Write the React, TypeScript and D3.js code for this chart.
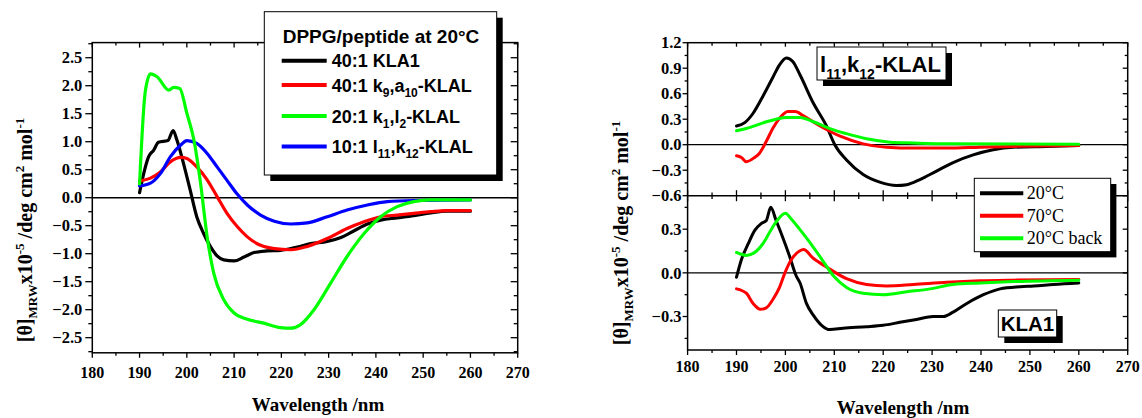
import React from "react";
import * as d3 from "d3";

// ---------- data: left chart (DPPG/peptide at 20°C) ----------
const kla1Nm = [190, 190.9, 191.9, 193, 194, 196, 197.1, 197.9, 199.3, 200.7, 202.1, 203.5, 205, 206.4, 207.8, 210, 212.1, 214.2, 217, 219.8, 223.4, 226.2, 229.7, 232.6, 235.4, 238.2, 241, 244.5, 248, 251.6, 255, 260];
const kla1Val = [0.09, 0.44, 0.73, 0.85, 0.99, 1.02, 1.2, 1.03, 0.61, 0.14, -0.34, -0.63, -0.875, -1.04, -1.11, -1.13, -1.06, -0.98, -0.95, -0.94, -0.88, -0.82, -0.78, -0.71, -0.59, -0.47, -0.4, -0.36, -0.32, -0.27, -0.24, -0.24];

const k9a10Nm = [190, 192.3, 194.4, 196.5, 198.7, 200, 202.1, 204.3, 206.4, 208.5, 210.7, 212.8, 215.6, 218.5, 222, 225.5, 229.7, 233.9, 237.5, 241, 244.5, 248, 251.6, 255, 260];
const k9a10Val = [0.3, 0.35, 0.46, 0.64, 0.72, 0.7, 0.55, 0.32, 0.02, -0.28, -0.52, -0.7, -0.85, -0.91, -0.93, -0.87, -0.73, -0.55, -0.43, -0.34, -0.31, -0.28, -0.25, -0.23, -0.23];

const k1l2Nm = [190, 191.2, 192.3, 193.7, 196.2, 197.2, 198.5, 200, 201.5, 202.9, 204.3, 205.7, 207.8, 210, 212.8, 216.3, 219.8, 222, 224, 226.9, 230.4, 233.9, 237.5, 241, 244.5, 248, 251.6, 260];
const k1l2Val = [0.245, 1.89, 2.21, 2.16, 1.92, 1.97, 1.95, 1.51, 1.03, 0.26, -0.7, -1.35, -1.82, -2.06, -2.17, -2.24, -2.32, -2.33, -2.27, -2.0, -1.53, -1.05, -0.64, -0.34, -0.16, -0.07, -0.04, -0.04];

const l11k12Nm = [190, 192.3, 194.4, 196.5, 198.7, 200, 202.1, 204.3, 206.4, 208.5, 210.7, 212.8, 215.6, 218.5, 222, 225.5, 229.7, 233.9, 238.2, 242.4, 248, 260];
const l11k12Val = [0.21, 0.26, 0.43, 0.73, 0.94, 1.02, 0.97, 0.79, 0.55, 0.31, 0.06, -0.13, -0.31, -0.42, -0.47, -0.45, -0.34, -0.22, -0.13, -0.07, -0.05, -0.04];

// ---------- data: right chart, top panel (l11,k12-KLAL) ----------
const topT20Nm = [190, 191.7, 193.4, 195.4, 197.5, 198.8, 200.2, 201.5, 203, 205.7, 208.4, 210.1, 212.5, 215.9, 219.3, 222.7, 224.8, 227.5, 230.9, 234.3, 238.4, 242.5, 246.6, 253.4, 260];
const topT20Val = [0.22, 0.26, 0.37, 0.57, 0.8, 0.94, 1.02, 0.98, 0.82, 0.49, 0.22, 0.0, -0.18, -0.35, -0.44, -0.48, -0.47, -0.41, -0.31, -0.21, -0.12, -0.06, -0.03, -0.02, -0.01];
const topT70Nm = [190, 191, 192, 193.7, 194.7, 196.1, 197.5, 198.8, 200.5, 202, 203.7, 207.1, 211.2, 215.9, 220.7, 226.2, 233, 239.8, 246.6, 260];
const topT70Val = [-0.13, -0.15, -0.2, -0.15, -0.1, 0.04, 0.2, 0.31, 0.39, 0.39, 0.34, 0.22, 0.1, 0.01, -0.03, -0.04, -0.04, -0.03, -0.02, -0.01];
const topBackNm = [190, 192, 194.1, 196.1, 198.1, 200.2, 203, 205.7, 209.1, 212.5, 216.6, 221.4, 226.2, 233, 260];
const topBackVal = [0.165, 0.19, 0.23, 0.27, 0.3, 0.32, 0.32, 0.27, 0.19, 0.13, 0.07, 0.03, 0.02, 0.01, 0.005];

// ---------- data: right chart, bottom panel (KLA1) ----------
const botT20Nm = [190, 191, 192.4, 193.7, 195.1, 196.1, 197, 198.1, 199.5, 200.8, 202.2, 203, 204.3, 205.7, 207.4, 209.1, 211.8, 216.6, 220, 223.4, 226.8, 230.2, 232.3, 234.3, 237.1, 240.5, 243.9, 248, 250.8, 254.8, 260];
const botT20Val = [-0.03, 0.09, 0.2, 0.29, 0.34, 0.36, 0.45, 0.36, 0.24, 0.12, -0.02, -0.07, -0.21, -0.29, -0.36, -0.39, -0.38, -0.37, -0.36, -0.34, -0.32, -0.3, -0.3, -0.27, -0.21, -0.15, -0.11, -0.095, -0.09, -0.08, -0.07];
const botT70Nm = [190, 192, 193.4, 194.9, 196.1, 197.5, 198.8, 199.9, 201.2, 202.9, 203.7, 205.7, 208.4, 212.5, 216.6, 220.7, 226.2, 233, 239.8, 246.6, 260];
const botT70Val = [-0.11, -0.14, -0.21, -0.25, -0.24, -0.18, -0.1, 0.0, 0.09, 0.15, 0.16, 0.1, 0.04, -0.04, -0.08, -0.09, -0.08, -0.065, -0.055, -0.05, -0.045];
const botBackNm = [190, 192, 194.1, 195.4, 196.8, 198.1, 200, 201.2, 202.9, 204.3, 207.1, 209.8, 212.5, 215.9, 220, 224.8, 229.6, 234.3, 239.8, 246.6, 260];
const botBackVal = [0.14, 0.12, 0.15, 0.2, 0.28, 0.35, 0.41, 0.37, 0.3, 0.24, 0.11, -0.02, -0.1, -0.14, -0.15, -0.13, -0.11, -0.08, -0.07, -0.06, -0.05];

// ---------- ticks ----------
const xMajorTicks = [180, 190, 200, 210, 220, 230, 240, 250, 260, 270];
const xMinorTicks = [185, 195, 205, 215, 225, 235, 245, 255, 265];
const leftYMajor = [-2.5, -2.0, -1.5, -1.0, -0.5, 0.0, 0.5, 1.0, 1.5, 2.0, 2.5];
const leftYMinor = [-2.75, -2.25, -1.75, -1.25, -0.75, -0.25, 0.25, 0.75, 1.25, 1.75, 2.25, 2.75];
const topYMajor = [-0.6, -0.3, 0.0, 0.3, 0.6, 0.9, 1.2];
const topYMinor = [-0.45, -0.15, 0.15, 0.45, 0.75, 1.05];
const botYMajor = [-0.3, 0.0, 0.3];
const botYMinor = [-0.45, -0.15, 0.15, 0.45];

const SERIF = "'Liberation Serif', 'Times New Roman', serif";
const SANS = "'Liberation Sans', Arial, sans-serif";

const fmt = (v: number) => (Math.abs(v) < 1e-9 ? "0.0" : d3.format(".1f")(v));

function Series({ nm, val, x, y, color, w = 3 }: any) {
  const line = d3
    .line<number>()
    .x((_, i) => x(nm[i]))
    .y((d) => y(d))
    .curve(d3.curveMonotoneX);
  return <path d={line(val) || ""} fill="none" stroke={color} strokeWidth={w} strokeLinejoin="round" strokeLinecap="round" />;
}

function YTicks({ y, x0, major, minor, dir, majLen, minLen, labels, labelSize = 16 }: any) {
  return (
    <g>
      {major.map((v: number) => (
        <line key={"M" + v} x1={x0} x2={x0 + dir * majLen} y1={y(v)} y2={y(v)} stroke="#000" strokeWidth={1.3} />
      ))}
      {minor.map((v: number) => (
        <line key={"m" + v} x1={x0} x2={x0 + dir * minLen} y1={y(v)} y2={y(v)} stroke="#000" strokeWidth={1.3} />
      ))}
      {labels &&
        major.map((v: number) => (
          <text key={"t" + v} x={x0 - labels} y={y(v)} dy="0.35em" textAnchor="end" fontFamily={SERIF} fontWeight="bold" fontSize={labelSize}>
            {fmt(v)}
          </text>
        ))}
    </g>
  );
}

function XTicks({ x, y0, dir, majLen, minLen, labelY, both }: any) {
  return (
    <g>
      {xMajorTicks.map((v) => (
        <line key={"M" + v} x1={x(v)} x2={x(v)} y1={both ? y0 - majLen : y0} y2={y0 + dir * majLen} stroke="#000" strokeWidth={1.3} />
      ))}
      {xMinorTicks.map((v) => (
        <line key={"m" + v} x1={x(v)} x2={x(v)} y1={both ? y0 - minLen : y0} y2={y0 + dir * minLen} stroke="#000" strokeWidth={1.3} />
      ))}
      {labelY &&
        xMajorTicks.map((v) => (
          <text key={"t" + v} x={x(v)} y={labelY} textAnchor="middle" fontFamily={SERIF} fontWeight="bold" fontSize={16}>
            {v}
          </text>
        ))}
    </g>
  );
}

function YLabel({ cx, cy }: any) {
  return (
    <text transform={`translate(${cx},${cy}) rotate(-90)`} textAnchor="middle" fontFamily={SERIF} fontWeight="bold" fontSize={20}>
      [θ]
      <tspan dy={5} fontSize={13}>MRW</tspan>
      <tspan dy={-5}>x10</tspan>
      <tspan dy={-8} fontSize={13}>-5</tspan>
      <tspan dy={8}> /deg cm</tspan>
      <tspan dy={-8} fontSize={13}>2</tspan>
      <tspan dy={8}> mol</tspan>
      <tspan dy={-8} fontSize={13}>-1</tspan>
    </text>
  );
}

type Part = [string, number];

function Parts({ parts, subSize, shift }: { parts: Part[]; subSize: number; shift: number }) {
  let sub = false;
  return (
    <>
      {parts.map((p, i) => {
        const [t, s] = p;
        let dy = 0;
        if (s && !sub) dy = shift;
        if (!s && sub) dy = -shift;
        sub = !!s;
        return (
          <tspan key={i} dy={dy} fontSize={s ? subSize : undefined}>
            {t}
          </tspan>
        );
      })}
    </>
  );
}

export default function App() {
  const lx = d3.scaleLinear().domain([180, 270]).range([92.3, 517.7]);
  const ly = d3.scaleLinear().domain([-2.77, 2.77]).range([352.8, 42.6]);
  const lTop = 42.6, lBot = 352.8, lL = 92.3, lR = 517.7;

  const rx = d3.scaleLinear().domain([180, 270]).range([687.6, 1127.7]);
  const ryTop = d3.scaleLinear().domain([-0.6, 1.2]).range([195.7, 42.7]);
  const ryBot = d3.scaleLinear().domain([-0.53, 0.53]).range([350, 195.7]);
  const rL = 687.6, rR = 1127.7, rTop = 42.7, rMid = 195.7, rBot = 350;

  const leftSeries = [
    { nm: kla1Nm, val: kla1Val, color: "#000000" },
    { nm: k9a10Nm, val: k9a10Val, color: "#ff0000" },
    { nm: l11k12Nm, val: l11k12Val, color: "#0000ff" },
    { nm: k1l2Nm, val: k1l2Val, color: "#00ff00" },
  ];

  const legRows: { y: number; color: string; parts: Part[] }[] = [
    { y: 60.7, color: "#000000", parts: [["40:1 KLA1", 0]] },
    { y: 85, color: "#ff0000", parts: [["40:1 k", 0], ["9", 1], [",a", 0], ["10", 1], ["-KLAL", 0]] },
    { y: 116, color: "#00ff00", parts: [["20:1 k", 0], ["1", 1], [",l", 0], ["2", 1], ["-KLAL", 0]] },
    { y: 146.5, color: "#0000ff", parts: [["10:1 l", 0], ["11", 1], [",k", 0], ["12", 1], ["-KLAL", 0]] },
  ];

  const rightLegend = [
    { y: 193.3, color: "#000000", label: "20°C" },
    { y: 215.7, color: "#ff0000", label: "70°C" },
    { y: 238.3, color: "#00ff00", label: "20°C back" },
  ];

  return (
    <svg width={1142} height={418} style={{ position: "absolute", left: 0, top: 0, background: "#fff" }}>
      <rect x={0} y={0} width={1142} height={418} fill="#fff" />

      {/* ===== LEFT CHART ===== */}
      <line x1={lL} x2={lR} y1={ly(0)} y2={ly(0)} stroke="#000" strokeWidth={1.5} />
      {leftSeries.map((s, i) => (
        <Series key={i} nm={s.nm} val={s.val} x={lx} y={ly} color={s.color} w={3.2} />
      ))}
      <rect x={lL} y={lTop} width={lR - lL} height={lBot - lTop} fill="none" stroke="#000" strokeWidth={1.5} />
      <YTicks y={ly} x0={lL} major={leftYMajor} minor={leftYMinor} dir={-1} majLen={7} minLen={4} labels={10} labelSize={16.5} />
      <YTicks y={ly} x0={lR} major={leftYMajor} minor={leftYMinor} dir={-1} majLen={7} minLen={4} />
      <XTicks x={lx} y0={lBot} dir={1} majLen={5} minLen={3} labelY={378} />
      <XTicks x={lx} y0={lTop} dir={1} majLen={5} minLen={3} />
      <YLabel cx={32} cy={230} />
      <text x={318} y={411} textAnchor="middle" fontFamily={SERIF} fontWeight="bold" fontSize={19}>
        Wavelength /nm
      </text>

      {/* left legend */}
      <rect x={270.3} y={17.7} width={232.4} height={163.3} fill="#000" />
      <rect x={264.3} y={11.7} width={232.4} height={163.3} fill="#fff" stroke="#000" strokeWidth={1} />
      <text x={381} y={43} textAnchor="middle" fontFamily={SANS} fontWeight="bold" fontSize={19}>
        DPPG/peptide at 20°C
      </text>
      {legRows.map((r, i) => (
        <g key={i}>
          <line x1={281.7} x2={326.7} y1={r.y} y2={r.y} stroke={r.color} strokeWidth={4} />
          <text x={331.7} y={r.y + 6.5} fontFamily={SANS} fontWeight="bold" fontSize={18}>
            <Parts parts={r.parts} subSize={12} shift={5} />
          </text>
        </g>
      ))}

      {/* ===== RIGHT CHART ===== */}
      <line x1={rL} x2={rR} y1={ryTop(0)} y2={ryTop(0)} stroke="#000" strokeWidth={1.3} />
      <line x1={rL} x2={rR} y1={ryBot(0)} y2={ryBot(0)} stroke="#000" strokeWidth={1.3} />
      <Series nm={topT20Nm} val={topT20Val} x={rx} y={ryTop} color="#000000" />
      <Series nm={topT70Nm} val={topT70Val} x={rx} y={ryTop} color="#ff0000" />
      <Series nm={topBackNm} val={topBackVal} x={rx} y={ryTop} color="#00ff00" />
      <Series nm={botT20Nm} val={botT20Val} x={rx} y={ryBot} color="#000000" />
      <Series nm={botT70Nm} val={botT70Val} x={rx} y={ryBot} color="#ff0000" />
      <Series nm={botBackNm} val={botBackVal} x={rx} y={ryBot} color="#00ff00" />
      <rect x={rL} y={rTop} width={rR - rL} height={rBot - rTop} fill="none" stroke="#000" strokeWidth={1.5} />
      <line x1={rL} x2={rR} y1={rMid} y2={rMid} stroke="#000" strokeWidth={1.5} />
      <YTicks y={ryTop} x0={rL} major={topYMajor} minor={topYMinor} dir={-1} majLen={5} minLen={3} labels={6} labelSize={16.5} />
      <YTicks y={ryTop} x0={rR} major={topYMajor} minor={topYMinor} dir={-1} majLen={5} minLen={3} />
      <YTicks y={ryBot} x0={rL} major={botYMajor} minor={botYMinor} dir={-1} majLen={5} minLen={3} labels={6} labelSize={16.5} />
      <YTicks y={ryBot} x0={rR} major={botYMajor} minor={botYMinor} dir={-1} majLen={5} minLen={3} />
      <XTicks x={rx} y0={rBot} dir={1} majLen={5} minLen={3} labelY={372} />
      <XTicks x={rx} y0={rTop} dir={1} majLen={4} minLen={3} />
      <XTicks x={rx} y0={rMid} dir={1} majLen={5.5} minLen={3.3} both />
      <YLabel cx={628} cy={233} />
      <text x={903} y={414} textAnchor="middle" fontFamily={SERIF} fontWeight="bold" fontSize={19}>
        Wavelength /nm
      </text>

      {/* top panel label */}
      <rect x={823} y={53} width={129} height={33} fill="#000" />
      <rect x={817} y={47} width={129} height={33} fill="#fff" stroke="#000" strokeWidth={1} />
      <text x={820} y={72} fontFamily={SANS} fontWeight="bold" fontSize={22}>
        <Parts parts={[["l", 0], ["11", 1], [",k", 0], ["12", 1], ["-KLAL", 0]]} subSize={14} shift={7} />
      </text>

      {/* right legend */}
      <rect x={980} y={184} width={136.4} height={73.4} fill="#000" />
      <rect x={974.3} y={178.3} width={136.4} height={73.4} fill="#fff" stroke="#000" strokeWidth={1} />
      {rightLegend.map((r, i) => (
        <g key={i}>
          <line x1={980} x2={1023.3} y1={r.y} y2={r.y} stroke={r.color} strokeWidth={4} />
          <text x={1026.7} y={r.y + 6} fontFamily={SERIF} fontSize={18}>
            {r.label}
          </text>
        </g>
      ))}

      {/* KLA1 label */}
      <rect x={1004.3} y={316} width={58.4} height={27} fill="#000" />
      <rect x={998.3} y={310} width={58.4} height={27} fill="#fff" stroke="#000" strokeWidth={1} />
      <text x={1027.5} y={331} textAnchor="middle" fontFamily={SANS} fontWeight="bold" fontSize={20.5}>
        KLA1
      </text>
    </svg>
  );
}
